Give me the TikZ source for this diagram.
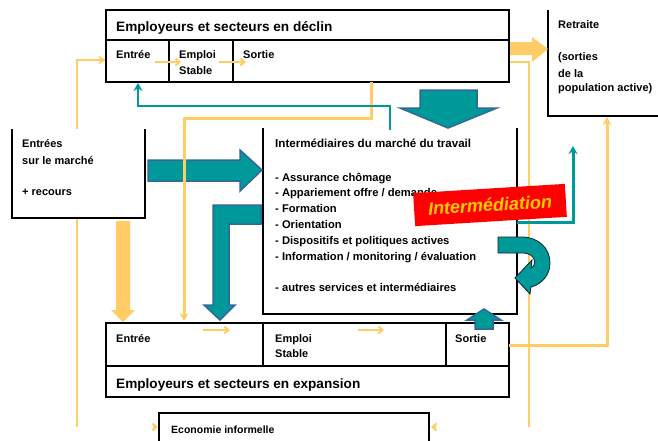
\documentclass[tikz,border=0pt]{standalone}
\usepackage{fontspec}
\setmainfont{Liberation Sans}
\usetikzlibrary{arrows.meta}
\definecolor{tealf}{HTML}{009999}
\definecolor{tealb}{HTML}{336699}
\definecolor{ylw}{HTML}{FFCC66}
\definecolor{lbl}{HTML}{FFCC00}
\tikzset{
  boxline/.style={draw=black, line width=2pt, line join=miter},
  txt/.style={anchor=base west, inner sep=0pt, font=\bfseries\fontsize{11}{13}\selectfont},
  hdr/.style={txt, font=\bfseries\fontsize{13.6}{15}\selectfont},
  lst/.style={txt, font=\bfseries\fontsize{11.2}{13}\selectfont},
  bigarrow/.style={fill=tealf, draw=tealb, line width=1.5pt, line join=miter},
  bigyel/.style={fill=ylw, draw=none},
  yl/.style={draw=ylw, line width=2pt},
  ylthick/.style={draw=ylw, line width=3pt},
  tl/.style={draw=tealf, line width=2pt},
  tipY/.style={-{Stealth[length=8pt,width=9pt]}},
  tipS/.style={-{Straight Barb[length=4pt,width=7pt]}}
}
\begin{document}
\begin{tikzpicture}[x=1pt,y=-1pt]
\useasboundingbox (0,0) rectangle (658,440);

% ---- thin yellow lines (background) ----
\coordinate (lt) at (77,129);
\coordinate (lb) at (77,427);
\coordinate (entreeTopL) at (106,60);
\draw[yl,tipY] (lt) -- (77,60) -- (entreeTopL);
\draw[yl] (77,218) -- (lb);
\coordinate (rtop) at (509,62);
\coordinate (rbot) at (529,427);
\draw[yl] (rtop) -- (529,62) -- (rbot);

% ---- boxes ----
% top box
\draw[boxline] (106,10) rectangle (509,82);
\draw[boxline] (106,40) -- (509,40);
\draw[boxline] (169,40) -- (169,82);
\draw[boxline] (233,40) -- (233,82);
% bottom box
\draw[boxline] (106,323) rectangle (509,397);
\draw[boxline] (106,366) -- (509,366);
\draw[boxline] (263,323) -- (263,366);
\draw[boxline] (446,323) -- (446,366);
% intermediaries
\draw[boxline] (263,128) -- (263,314) -- (517,314) -- (517,128);
% left box
\draw[boxline] (12,129) -- (12,218) -- (145,218) -- (145,129);
% retraite
\draw[boxline] (548,10) -- (548,116) -- (658,116);
% economie informelle
\draw[boxline] (159,441) -- (159,413) -- (429,413) -- (429,441);

% ---- texts ----
\node[hdr] (decl) at (116,31) {Employeurs et secteurs en déclin};
\node[txt] (e1) at (116,58) {Entrée};
\node[txt] (s1a) at (179,58) {Emploi};
\node[txt] (s1b) at (179,74) {Stable};
\node[txt] (o1) at (243,58) {Sortie};

\node[hdr] (expa) at (116,388) {Employeurs et secteurs en expansion};
\node[txt] (e2) at (116,342) {Entrée};
\node[txt] (s2a) at (275,342) {Emploi};
\node[txt] (s2b) at (275,357) {Stable};
\node[txt] (o2) at (455,342) {Sortie};

\node[txt] (m1) at (22,147) {Entrées};
\node[txt] (m2) at (22,164) {sur le marché};
\node[txt] (m3) at (22,195) {+ recours};

\node[txt] (r1) at (558,28) {Retraite};
\node[txt] (r2) at (558,60) {(sorties};
\node[txt] (r3) at (558,77) {de la};
\node[txt] (r4) at (558,91) {population active)};

\node[txt, font=\bfseries\fontsize{10.5}{12}\selectfont] (eco) at (171,433) {Economie informelle};

\node[txt, font=\bfseries\fontsize{11.6}{13}\selectfont] (ih) at (275,147) {Intermédiaires du marché du travail};
\node[lst] (i1) at (275,181) {- Assurance chômage};
\node[lst] (i2) at (275,196) {- Appariement offre / demande};
\node[lst] (i3) at (275,212) {- Formation};
\node[lst] (i4) at (275,228) {- Orientation};
\node[lst] (i5) at (275,244) {- Dispositifs et politiques actives};
\node[lst] (i6) at (275,260) {- Information / monitoring / évaluation};
\node[lst] (i7) at (275,291) {- autres services et intermédiaires};

% ---- small yellow arrows inside boxes ----
\draw[yl,tipS] (155,62) -- (181,62);
\draw[yl,tipS] (219,62) -- (246,62);
\draw[yl,tipS] (203,330) -- (230,330);
\draw[yl,tipS] (358,330) -- (384,330);
\draw[yl,tipS] (153,427) -- (158,427);
\draw[yl,tipS] (436,427) -- (431,427);

% ---- big teal arrows ----
\draw[bigarrow] (148,160) -- (240,160) -- (240,150) -- (262,170) -- (240,191) -- (240,181) -- (148,181) -- cycle;
\draw[bigarrow] (420,90) -- (477,90) -- (477,108) -- (497,108) -- (448,128) -- (400,108) -- (420,108) -- cycle;
\draw[bigarrow] (261,205) -- (213,205) -- (213,305) -- (204,305) -- (220,320) -- (235,305) -- (229,305) -- (229,224) -- (261,224) -- cycle;
\draw[bigarrow] (475,329) -- (475,320) -- (467,320) -- (484,309) -- (501,320) -- (493,320) -- (493,329) -- cycle;

% ---- thick yellow arrows ----
\fill[bigyel] (116,221) -- (130,221) -- (130,310) -- (135,310) -- (123,322) -- (111,310) -- (116,310) -- cycle;
\fill[bigyel] (510,42) -- (532,42) -- (532,37) -- (548,49) -- (532,62) -- (532,55) -- (510,55) -- cycle;

% ---- orange / teal connectors ----
\draw[ylthick,tipY] (371,82) -- (371,118) -- (184,118) -- (184,321);
\draw[ylthick,tipY] (509,345) -- (607,345) -- (607,117);
\draw[tl,tipY] (390,130) -- (390,106) -- (138,106) -- (138,83);
\draw[tl,line width=3pt,tipY] (517,222) -- (573,222) -- (573,146);

% ---- curved U-turn arrow ----
\draw[fill=tealf, draw=black!70!tealb, line width=0.8pt, line join=miter]
  (498,237) -- (522,237) .. controls (538,237) and (550,248) .. (550,263)
  .. controls (550,275) and (542,284) .. (531,287) -- (530,294) -- (515,278) -- (532,260)
  -- (531,268) .. controls (537,265) and (536,254) .. (524,253) -- (498,253) -- cycle;

% ---- label ----
\node[rotate=3.5, fill=red, minimum width=152pt, minimum height=33pt, inner sep=0pt,
      text=lbl, font=\bfseries\itshape\fontsize{18}{20}\selectfont] (lab) at (490,205) {Intermédiation};
\end{tikzpicture}
\end{document}
